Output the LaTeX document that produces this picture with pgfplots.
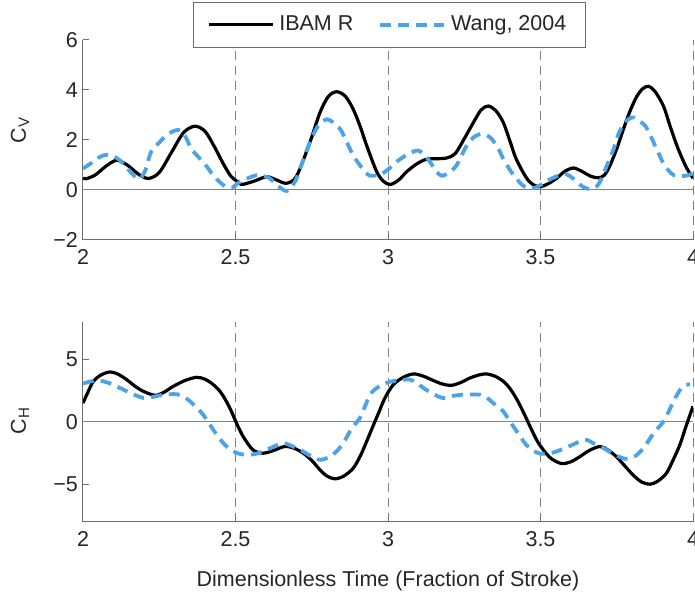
\documentclass[border=0pt]{standalone}
\usepackage{fontspec}
\setmainfont{Liberation Sans}
\usepackage{pgfplots}
\pgfplotsset{compat=1.18}
\definecolor{wblue}{HTML}{4DA3E8}
\definecolor{axgray}{RGB}{110,110,110}
\definecolor{txt}{RGB}{38,38,38}

\pgfplotstableread{
t c
2.000 0.48
2.010 0.45
2.040 0.60
2.075 0.95
2.110 1.19
2.145 1.00
2.180 0.65
2.214 0.46
2.250 0.70
2.290 1.50
2.330 2.30
2.367 2.55
2.400 2.35
2.430 1.75
2.460 1.05
2.485 0.55
2.505 0.35
2.520 0.22
2.560 0.35
2.602 0.53
2.635 0.40
2.667 0.27
2.700 0.55
2.744 1.91
2.777 3.10
2.805 3.75
2.832 3.93
2.860 3.75
2.886 3.23
2.910 2.50
2.930 1.78
2.963 0.73
2.985 0.35
3.007 0.22
3.035 0.40
3.061 0.73
3.095 1.05
3.126 1.23
3.160 1.25
3.192 1.28
3.220 1.45
3.250 2.05
3.280 2.70
3.305 3.20
3.329 3.36
3.355 3.15
3.378 2.70
3.400 1.95
3.420 1.25
3.453 0.50
3.475 0.22
3.498 0.13
3.525 0.25
3.553 0.47
3.580 0.75
3.608 0.88
3.635 0.75
3.665 0.55
3.690 0.49
3.710 0.60
3.728 0.99
3.750 1.65
3.772 2.44
3.795 3.20
3.816 3.75
3.835 4.05
3.854 4.15
3.875 3.95
3.903 3.36
3.925 2.55
3.947 1.78
3.965 1.25
3.980 0.86
4.000 0.47
}\cvibam

\pgfplotstableread{
t c
2.000 0.86
2.030 1.10
2.055 1.32
2.077 1.41
2.100 1.35
2.125 1.15
2.150 0.80
2.170 0.55
2.187 0.45
2.205 0.80
2.223 1.52
2.250 1.90
2.280 2.25
2.313 2.40
2.335 2.15
2.355 1.65
2.380 1.30
2.405 0.95
2.427 0.59
2.450 0.30
2.470 0.12
2.490 0.10
2.505 0.25
2.530 0.42
2.569 0.59
2.595 0.55
2.613 0.46
2.640 0.15
2.667 -0.04
2.685 0.15
2.700 0.46
2.722 1.20
2.744 1.91
2.770 2.55
2.799 2.83
2.820 2.70
2.843 2.44
2.860 2.05
2.875 1.65
2.890 1.30
2.908 0.99
2.925 0.72
2.941 0.57
2.960 0.58
2.974 0.60
3.000 0.82
3.025 1.10
3.050 1.32
3.075 1.50
3.099 1.58
3.120 1.40
3.138 1.12
3.158 0.75
3.176 0.57
3.200 0.70
3.225 0.99
3.250 1.60
3.269 1.98
3.290 2.18
3.307 2.24
3.325 2.18
3.340 2.04
3.360 1.70
3.378 1.25
3.400 0.80
3.420 0.47
3.440 0.20
3.460 0.07
3.480 0.08
3.500 0.20
3.530 0.42
3.564 0.60
3.585 0.63
3.605 0.48
3.619 0.33
3.640 0.12
3.662 0.04
3.685 0.15
3.700 0.46
3.720 1.05
3.740 1.65
3.756 2.25
3.772 2.62
3.790 2.85
3.806 2.90
3.825 2.75
3.843 2.57
3.860 2.20
3.875 1.78
3.890 1.40
3.903 1.05
3.920 0.78
3.936 0.60
3.960 0.56
3.980 0.58
4.000 0.66
}\cvwang

\pgfplotstableread{
t c
2.000 1.49
2.015 2.30
2.034 3.23
2.060 3.75
2.089 3.98
2.115 3.80
2.143 3.37
2.170 2.85
2.198 2.43
2.236 2.11
2.265 2.35
2.296 2.83
2.335 3.30
2.372 3.55
2.400 3.40
2.427 2.97
2.450 2.40
2.470 1.63
2.487 0.80
2.503 -0.10
2.525 -1.18
2.557 -2.25
2.590 -2.52
2.625 -2.30
2.662 -1.98
2.695 -2.15
2.722 -2.52
2.750 -3.10
2.777 -3.85
2.800 -4.35
2.826 -4.57
2.855 -4.35
2.886 -3.72
2.910 -2.70
2.930 -1.58
2.950 -0.40
2.970 0.75
2.990 1.90
3.017 2.95
3.050 3.55
3.083 3.82
3.115 3.65
3.149 3.29
3.180 3.00
3.209 2.91
3.240 3.15
3.269 3.50
3.300 3.75
3.323 3.82
3.350 3.65
3.378 3.23
3.400 2.65
3.420 1.89
3.437 1.10
3.453 0.29
3.470 -0.60
3.490 -1.58
3.509 -2.25
3.535 -2.95
3.569 -3.35
3.600 -3.20
3.630 -2.78
3.660 -2.30
3.695 -1.98
3.720 -2.25
3.748 -2.78
3.775 -3.50
3.803 -4.25
3.830 -4.80
3.859 -5.00
3.885 -4.75
3.913 -4.12
3.935 -3.05
3.957 -1.84
3.978 -0.30
4.000 1.23
}\chibam

\pgfplotstableread{
t c
2.000 3.05
2.030 3.25
2.056 3.29
2.090 3.05
2.121 2.70
2.160 2.25
2.198 1.90
2.230 1.98
2.263 2.16
2.307 2.20
2.330 2.00
2.351 1.63
2.373 1.10
2.394 0.56
2.427 -0.64
2.460 -1.71
2.485 -2.25
2.510 -2.55
2.536 -2.65
2.565 -2.58
2.590 -2.38
2.625 -2.00
2.656 -1.71
2.690 -2.00
2.722 -2.38
2.750 -2.80
2.777 -3.05
2.805 -2.85
2.831 -2.38
2.855 -1.65
2.875 -0.78
2.892 -0.20
2.908 0.29
2.925 1.25
2.941 2.16
2.960 2.65
2.984 2.97
3.007 3.20
3.040 3.32
3.072 3.37
3.095 3.10
3.116 2.70
3.150 2.20
3.180 1.90
3.210 2.05
3.245 2.16
3.302 2.16
3.325 1.90
3.345 1.49
3.362 1.15
3.378 0.83
3.395 0.20
3.411 -0.38
3.430 -1.05
3.453 -1.84
3.475 -2.30
3.498 -2.55
3.525 -2.55
3.553 -2.38
3.600 -1.90
3.646 -1.44
3.675 -1.75
3.706 -2.11
3.740 -2.60
3.777 -2.97
3.800 -2.85
3.816 -2.65
3.840 -2.05
3.859 -1.34
3.880 -0.65
3.903 0.00
3.920 0.80
3.936 1.63
3.950 2.25
3.967 2.83
3.990 3.00
}\chwang

\pgfplotsset{
  myax/.style={
    scale only axis, width=610pt, height=200pt,
    xmin=2, xmax=4,
    axis x line=bottom, axis y line=left,
    axis line style={-, draw=axgray, line width=1pt},
    tick align=inside, major tick length=6pt,
    tick style={draw=axgray, line width=1pt},
    xtick={2,2.5,3,3.5,4}, xticklabels={2,2.5,3,3.5,4},
    xmajorgrids,
    major grid style={draw=gray, line width=1pt, dash pattern=on 9pt off 6pt},
    font=\fontsize{21.5}{25}\selectfont,
    ticklabel style={text=txt},
    xticklabel style={anchor=base, yshift=-25pt, inner sep=0pt},
    yticklabel style={anchor=east, inner sep=0pt, xshift=-5pt},
    label style={text=txt, inner sep=0pt},
    blk/.style={draw=black, line width=3.2pt, smooth},
    blu/.style={draw=wblue, line width=3.8pt, dash pattern=on 11pt off 7pt, smooth},
  }
}

\begin{document}
\begin{tikzpicture}
\begin{axis}[myax,
  ymin=-2, ymax=6,
  ytick={-2,0,2,4,6}, yticklabels={−2,0,2,4,6},
  ylabel={C\textsubscript{V}},
  ylabel style={at={(axis description cs:-0.088,0.55)}, anchor=south},
  legend columns=2,
  legend cell align=left,
  legend image code/.code={\draw[#1] (0pt,0pt) -- (64pt,0pt);},
  legend style={at={(0.502,1.19)}, anchor=north, draw=axgray, line width=0.8pt,
    fill=white, text=txt, inner xsep=14pt, inner ysep=10pt,
    nodes={inner xsep=5pt, inner ysep=3pt, text height=15pt, text depth=4pt},
    /tikz/every even column/.append style={column sep=20pt}},
]
\addplot[forget plot, draw=gray, line width=1pt] coordinates {(2,0) (4,0)};
\addplot[blk] table[x=t,y=c] {\cvibam};
\addlegendentry{IBAM R}
\addplot[blu] table[x=t,y=c] {\cvwang};
\addlegendentry{Wang, 2004\hspace{10pt}}
\end{axis}

\begin{axis}[myax, at={(0pt,-281.7pt)},
  ymin=-8, ymax=8,
  ytick={-5,0,5}, yticklabels={−5,0,5},
  ylabel={C\textsubscript{H}},
  ylabel style={at={(axis description cs:-0.088,0.505)}, anchor=south},
  xlabel={Dimensionless Time (Fraction of Stroke)},
  xlabel style={at={(axis description cs:0.5,-0.3215)}, anchor=base},
]
\addplot[forget plot, draw=gray, line width=1pt] coordinates {(2,0) (4,0)};
\addplot[blk] table[x=t,y=c] {\chibam};
\addplot[blu] table[x=t,y=c] {\chwang};
\end{axis}
\pgfresetboundingbox
\path[use as bounding box] (-83pt,-356pt) rectangle (612pt,240pt);
\end{tikzpicture}
\end{document}
